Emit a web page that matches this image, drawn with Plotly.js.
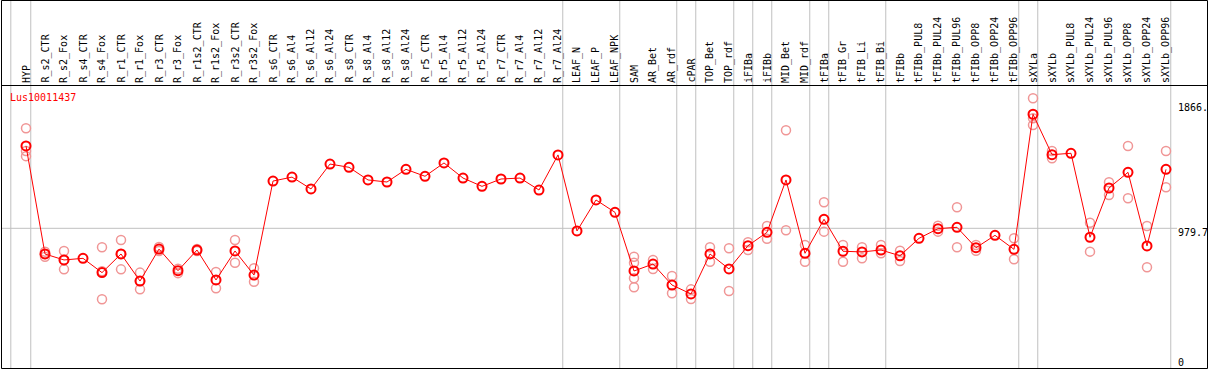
<!DOCTYPE html>
<html>
<head>
<meta charset="utf-8">
<script src="https://cdn.plot.ly/plotly-3.0.1.min.js"></script>
<style>html,body{margin:0;padding:0;background:#fff;}#chart{width:1209px;height:370px;}</style>
</head>
<body>
<div id="chart"></div>
<script>
const geneName = "Lus10011437";
const categories = ["HYP","R_s2_CTR","R_s2_Fox","R_s4_CTR","R_s4_Fox","R_r1_CTR","R_r1_Fox","R_r3_CTR","R_r3_Fox","R_r1s2_CTR","R_r1s2_Fox","R_r3s2_CTR","R_r3s2_Fox","R_s6_CTR","R_s6_Al4","R_s6_Al12","R_s6_Al24","R_s8_CTR","R_s8_Al4","R_s8_Al12","R_s8_Al24","R_r5_CTR","R_r5_Al4","R_r5_Al12","R_r5_Al24","R_r7_CTR","R_r7_Al4","R_r7_Al12","R_r7_Al24","LEAF_N","LEAF_P","LEAF_NPK","SAM","AR_Bet","AR_rdf","cPAR","TOP_Bet","TOP_rdf","iFIBa","iFIBb","MID_Bet","MID_rdf","tFIBa","tFIB_Gr","tFIB_Li","tFIB_Bi","tFIBb","tFIBb_PUL8","tFIBb_PUL24","tFIBb_PUL96","tFIBb_OPP8","tFIBb_OPP24","tFIBb_OPP96","sXYLa","sXYLb","sXYLb_PUL8","sXYLb_PUL24","sXYLb_PUL96","sXYLb_OPP8","sXYLb_OPP24","sXYLb_OPP96"];
const meanValues = [1585,791,747,759,654,791,592,827,668,820,600,813,636,1327,1356,1269,1452,1428,1335,1320,1413,1362,1460,1349,1288,1342,1349,1261,1519,960,1188,1097,666,717,563,497,791,681,852,950,1335,796,1046,811,806,820,778,906,977,987,837,928,825,1818,1521,1531,914,1276,1391,850,1413];
const replicateValues = [[1715,1548,1510],[808,791,771],[813,747,678],[],[840,664,458],[894,791,678],[654,592,531],[842,812],[683,650],[827,812],[659,539],[894,727],[686,587],[],[],[],[],[],[],[],[],[],[],[],[],[],[],[],[],[],[],[],[771,727,612,546],[747,681],[629,502],[531,460],[840,734],[833,519],[877,820],[997,903],[1700,965],[857,734],[1171,955],[857,734],[840,759],[857,796],[815,739],[],[999,955],[1134,840],[857,815],[],[906,752],[1935,1788,1739],[1548,1494],[],[1021,808],[1318,1225],[1585,1200],[997,693],[1548,1281]];
const groupEnds = ["HYP","R_r7_Al24","LEAF_NPK","AR_rdf","cPAR","TOP_rdf","iFIBa","iFIBb","MID_rdf","tFIBa","tFIB_Bi","tFIBb_OPP96","sXYLa","sXYLb_OPP96"];
const yTickValues = [1866, 979.7, 0];
const yTickLabels = ["1866.", "979.7", "0"];

// geometry helpers (pixel -> paper)
const W = 1209, H = 370, L = 2, R = 2, T = 86, B = 2;
const pw = W - L - R, ph = H - T - B;
const px = p => (p - L) / pw;
const py = p => (H - B - p) / ph;
const x0 = 26, dx = 19;           // pixel of first category, spacing
const y0v = 361.6, kv = 7.3496;    // pixel of value 0, value per pixel
const xr = [(L - x0) / dx, (W - R - x0) / dx];
const yr = [(y0v - (H - B)) * kv, (y0v - T) * kv];

const idx = categories.map((c, i) => i);
const repX = [], repY = [];
replicateValues.forEach((arr, i) => arr.forEach(v => { repX.push(i); repY.push(v); }));

const mono = "DejaVu Sans Mono, monospace";
const traces = [
  { x: repX, y: repY, type: "scatter", mode: "markers", hoverinfo: "y",
    marker: { symbol: "circle-open", size: 9, color: "rgb(240,150,150)", line: { width: 1.5, color: "rgb(240,150,150)" } } },
  { x: idx, y: meanValues, type: "scatter", mode: "lines+markers", hoverinfo: "y",
    line: { color: "#ff0000", width: 1 },
    marker: { symbol: "circle-open", size: 9, color: "#ff0000", line: { width: 2, color: "#ff0000" } } }
];

const shapes = [];
// group separators
const sepPos = [-0.8].concat(groupEnds.map(g => categories.indexOf(g) + 0.25));
sepPos.forEach(s => shapes.push({ type: "line", xref: "x", yref: "paper", x0: s, x1: s, y0: py(368), y1: py(0), line: { color: "#c0c0c0", width: 1 }, layer: "below" }));
// horizontal reference line
shapes.push({ type: "line", xref: "paper", yref: "y", x0: px(2), x1: px(1177), y0: 979.7, y1: 979.7, line: { color: "#c0c0c0", width: 1 }, layer: "below" });
// frame
shapes.push({ type: "rect", xref: "paper", yref: "paper", x0: px(1.5), x1: px(1207.5), y0: py(368.5), y1: py(0.5), line: { color: "#000", width: 1 } });
shapes.push({ type: "line", xref: "paper", yref: "paper", x0: px(1.5), x1: px(1207.5), y0: py(85.5), y1: py(85.5), line: { color: "#000", width: 1 } });

const annotations = [];
categories.forEach((c, i) => annotations.push({ x: i, xref: "x", y: py(84), yref: "paper", text: c, showarrow: false, textangle: -90, xanchor: "center", yanchor: "bottom", font: { family: mono, size: 10, color: "#000" }, borderpad: 0 }));
annotations.push({ x: px(9), xref: "paper", y: py(97), yref: "paper", text: geneName, showarrow: false, xanchor: "left", yanchor: "middle", font: { family: mono, size: 10, color: "#ff0000" }, borderpad: 0 });
const labelPix = [107.7, 232.5, 362];
yTickValues.forEach((v, k) => annotations.push({ x: px(1177), xref: "paper", y: py(labelPix[k]), yref: "paper", text: yTickLabels[k], showarrow: false, xanchor: "left", yanchor: "middle", font: { family: mono, size: 10, color: "#000" }, borderpad: 0 }));

const layout = {
  width: W, height: H, margin: { l: L, r: R, t: T, b: B, pad: 0 },
  paper_bgcolor: "#fff", plot_bgcolor: "#fff", showlegend: false,
  xaxis: { range: xr, showgrid: false, zeroline: false, showticklabels: false, ticks: "", showline: false },
  yaxis: { range: yr, showgrid: false, zeroline: false, showticklabels: false, ticks: "", showline: false },
  shapes: shapes, annotations: annotations
};
Plotly.newPlot("chart", traces, layout, { displayModeBar: false, staticPlot: true });
</script>
</body>
</html>
